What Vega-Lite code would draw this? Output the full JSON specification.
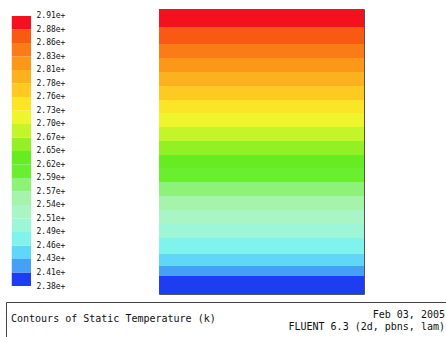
{
  "$schema": "https://vega.github.io/schema/vega-lite/v6.json",
  "padding": {"left": 5, "top": 8, "right": 0, "bottom": 0},
  "background": "white",
  "config": {"view": {"stroke": null}},
  "datasets": {
    "bands": [
      {"band": 0, "lo": 238, "hi": 240.65},
      {"band": 1, "lo": 240.65, "hi": 243.3},
      {"band": 2, "lo": 243.3, "hi": 245.95},
      {"band": 3, "lo": 245.95, "hi": 248.6},
      {"band": 4, "lo": 248.6, "hi": 251.25},
      {"band": 5, "lo": 251.25, "hi": 253.9},
      {"band": 6, "lo": 253.9, "hi": 256.55},
      {"band": 7, "lo": 256.55, "hi": 259.2},
      {"band": 8, "lo": 259.2, "hi": 261.85},
      {"band": 9, "lo": 261.85, "hi": 264.5},
      {"band": 10, "lo": 264.5, "hi": 267.15},
      {"band": 11, "lo": 267.15, "hi": 269.8},
      {"band": 12, "lo": 269.8, "hi": 272.45},
      {"band": 13, "lo": 272.45, "hi": 275.1},
      {"band": 14, "lo": 275.1, "hi": 277.75},
      {"band": 15, "lo": 277.75, "hi": 280.4},
      {"band": 16, "lo": 280.4, "hi": 283.05},
      {"band": 17, "lo": 283.05, "hi": 285.7},
      {"band": 18, "lo": 285.7, "hi": 288.35},
      {"band": 19, "lo": 288.35, "hi": 291}
    ],
    "contour": [
      {"band": 0, "y0": 0, "y1": 18},
      {"band": 1, "y0": 18, "y1": 28},
      {"band": 2, "y0": 28, "y1": 40},
      {"band": 3, "y0": 40, "y1": 56},
      {"band": 4, "y0": 56, "y1": 70},
      {"band": 5, "y0": 70, "y1": 84},
      {"band": 6, "y0": 84, "y1": 98},
      {"band": 7, "y0": 98, "y1": 112},
      {"band": 8, "y0": 112, "y1": 126},
      {"band": 9, "y0": 126, "y1": 139},
      {"band": 10, "y0": 139, "y1": 153},
      {"band": 11, "y0": 153, "y1": 167},
      {"band": 12, "y0": 167, "y1": 181},
      {"band": 13, "y0": 181, "y1": 194},
      {"band": 14, "y0": 194, "y1": 208},
      {"band": 15, "y0": 208, "y1": 222},
      {"band": 16, "y0": 222, "y1": 236},
      {"band": 17, "y0": 236, "y1": 250},
      {"band": 18, "y0": 250, "y1": 267},
      {"band": 19, "y0": 267, "y1": 285}
    ],
    "caption": [
      {"side": "left", "row": 1.35, "text": "Contours of Static Temperature (k)"},
      {"side": "right", "row": 1, "text": "Feb 03, 2005"},
      {"side": "right", "row": 2, "text": "FLUENT 6.3 (2d, pbns, lam)"}
    ]
  },
  "spacing": 6,
  "vconcat": [
    {
      "spacing": 93,
      "hconcat": [
        {
          "width": 25,
          "height": 285,
          "data": {"name": "bands"},
          "mark": {"type": "rect"},
          "encoding": {
            "x": {"datum": 0, "type": "quantitative", "scale": {"domain": [-0.3, 1], "nice": false, "zero": false}, "axis": null},
            "x2": {"datum": 1},
            "y": {
              "field": "lo", "type": "quantitative",
              "scale": {"domain": [236.43, 292.37], "nice": false, "zero": false},
              "axis": {
                "orient": "right", "title": null, "domain": false, "ticks": false, "grid": false,
                "values": [238, 240.65, 243.3, 245.95, 248.6, 251.25, 253.9, 256.55, 259.2, 261.85, 264.5, 267.15, 269.8, 272.45, 275.1, 277.75, 280.4, 283.05, 285.7, 288.35, 291],
                "labelExpr": "['2.38e+','2.41e+','2.43e+','2.46e+','2.49e+','2.51e+','2.54e+','2.57e+','2.59e+','2.62e+','2.65e+','2.67e+','2.70e+','2.73e+','2.76e+','2.78e+','2.81e+','2.83e+','2.86e+','2.88e+','2.91e+'][round((datum.value - 238) / 2.65)]",
                "labelPadding": 5, "labelFont": "DejaVu Sans Mono", "labelFontSize": 8, "labelColor": "#111",
                "labelOverlap": false, "labelBound": false, "labelFlush": false
              }
            },
            "y2": {"field": "hi"},
            "color": {
              "field": "band", "type": "ordinal",
              "scale": {
                "domain": [0,1,2,3,4,5,6,7,8,9,10,11,12,13,14,15,16,17,18,19],
                "range": ["#1e3cf0","#46a0f6","#60d6f8","#80f4ec","#9ef6d8","#aaf5c6","#a6f4ac","#8ef27a","#6aee30","#66ec20","#92f024","#c4f42a","#eef52c","#fce426","#fdca22","#fcb11e","#fb981a","#fa7c16","#f85a12","#f5101e"]
              },
              "legend": null
            }
          }
        },
        {
          "width": 205,
          "height": 285,
          "data": {"name": "contour"},
          "view": {"stroke": "#555", "strokeWidth": 1},
          "mark": {"type": "rect"},
          "encoding": {
            "y": {"field": "y0", "type": "quantitative", "scale": {"domain": [0, 285], "nice": false, "zero": false}, "axis": null},
            "y2": {"field": "y1"},
            "color": {
              "field": "band", "type": "ordinal",
              "scale": {
                "domain": [0,1,2,3,4,5,6,7,8,9,10,11,12,13,14,15,16,17,18,19],
                "range": ["#1e3cf0","#46a0f6","#60d6f8","#80f4ec","#9ef6d8","#aaf5c6","#a6f4ac","#8ef27a","#6aee30","#66ec20","#92f024","#c4f42a","#eef52c","#fce426","#fdca22","#fcb11e","#fb981a","#fa7c16","#f85a12","#f5101e"]
              },
              "legend": null
            }
          }
        }
      ]
    },
    {
      "width": 441,
      "height": 35,
      "data": {"name": "caption"},
      "view": {"stroke": "#444", "strokeWidth": 1},
      "layer": [
        {
          "transform": [{"filter": "datum.side === 'left'"}],
          "mark": {"type": "text", "align": "left", "baseline": "middle", "font": "DejaVu Sans Mono", "fontSize": 10, "color": "#111"},
          "encoding": {
            "x": {"field": "side", "type": "nominal", "scale": {"type": "point", "domain": ["left", "right"], "range": [5, 439], "padding": 0}, "axis": null},
            "y": {"field": "row", "type": "quantitative", "scale": {"domain": [0, 2.8], "range": [0, 35], "nice": false, "zero": false}, "axis": null},
            "text": {"field": "text"}
          }
        },
        {
          "transform": [{"filter": "datum.side === 'right'"}],
          "mark": {"type": "text", "align": "right", "baseline": "middle", "font": "DejaVu Sans Mono", "fontSize": 10, "color": "#111"},
          "encoding": {
            "x": {"field": "side", "type": "nominal", "scale": {"type": "point", "domain": ["left", "right"], "range": [5, 439], "padding": 0}, "axis": null},
            "y": {"field": "row", "type": "quantitative", "scale": {"domain": [0, 2.8], "range": [0, 35], "nice": false, "zero": false}, "axis": null},
            "text": {"field": "text"}
          }
        }
      ]
    }
  ]
}
